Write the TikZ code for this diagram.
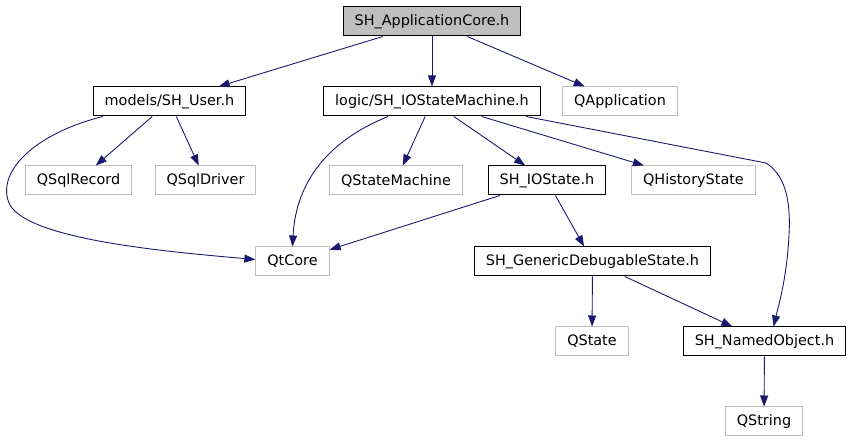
\documentclass[tikz,border=0pt]{standalone}
\usepackage{fontspec}
\setmainfont{DejaVu Sans}
\usepackage{xcolor}
\usepackage{tikz}
\usetikzlibrary{arrows.meta}

\definecolor{edgeblue}{HTML}{191970}
\definecolor{extgray}{HTML}{BFBFBF}

\begin{document}
\begin{tikzpicture}[
    x=1pt, y=-1pt,
    header/.style={rectangle, draw=black, line width=1pt, minimum height=29pt, inner xsep=11.5pt, inner ysep=0pt, font=\fontsize{14.4}{17}\selectfont},
    extheader/.style={header, draw=extgray},
    rootheader/.style={header, fill=extgray},
    edge/.style={-{Triangle[length=11pt,width=8pt]}, line width=0.9pt, edgeblue},
]
\useasboundingbox (0,0) rectangle (852,443);

% === ROOT ===
\node[rootheader] (core) at (432,21.5) {SH\_ApplicationCore.h};

% === FIRST LEVEL ===
\node[header] (user) at (169.5,101.5) {models/SH\_User.h};
\node[header] (ism) at (432,101.5) {logic/SH\_IOStateMachine.h};
\node[extheader] (qapp) at (620,101.5) {QApplication};

% === SECOND LEVEL ===
\node[extheader] (qsqlrec) at (78.5,180.5) {QSqlRecord};
\node[extheader] (qsqldrv) at (205.5,180.5) {QSqlDriver};
\node[extheader] (qsm) at (396,180.5) {QStateMachine};
\node[header] (iostate) at (547,180.5) {SH\_IOState.h};
\node[extheader] (qhist) at (693.5,180.5) {QHistoryState};

% === LOWER LEVELS ===
\node[extheader] (qtcore) at (292.5,261.5) {QtCore};
\node[header] (generic) at (592.5,261.5) {SH\_GenericDebugableState.h};
\node[extheader] (qstate) at (592,341.5) {QState};
\node[header] (named) at (764.5,341.5) {SH\_NamedObject.h};
\node[extheader] (qstring) at (764,421.5) {QString};

% === EDGES ===
% root
\draw[edge] (core) -- (user);
\draw[edge] (core) -- (ism);
\draw[edge] (core) -- (qapp);

% models/SH_User.h
\draw[edge] (user) -- (qsqlrec);
\draw[edge] (user) -- (qsqldrv);
\draw[edge] ([xshift=10pt]user.south west) .. controls (30,135) and (-5,175) .. (10,205)
    .. controls (30,240) and (170,252) .. ([yshift=2pt]qtcore.west);

% logic/SH_IOStateMachine.h
\draw[edge] ([xshift=-44pt]ism.south) .. controls (330,140) and (296,180) .. (qtcore.north);
\draw[edge] (ism) -- (qsm);
\draw[edge] (ism) -- (iostate);
\draw[edge] (ism) -- (qhist);
\draw[edge] ([xshift=94pt]ism.south) -- (766,163) .. controls (785,175) and (791,200) .. (789,235)
    .. controls (787,275) and (780,300) .. ([xshift=9pt]named.north);

% states
\draw[edge] (iostate) -- (qtcore);
\draw[edge] (iostate) -- (generic);
\draw[edge] (generic) -- (qstate);
\draw[edge] (generic) -- (named);
\draw[edge] (named) -- (qstring);

\end{tikzpicture}
\end{document}
